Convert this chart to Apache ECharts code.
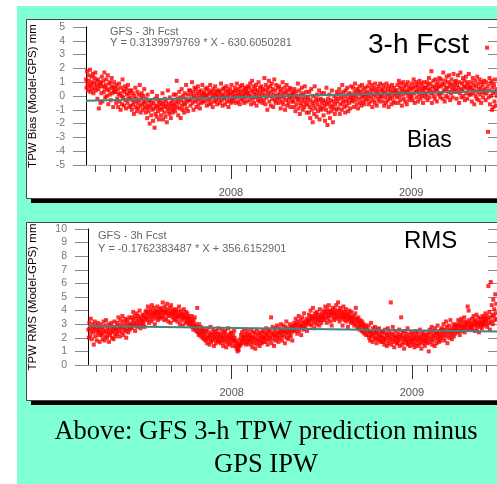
<!DOCTYPE html>
<html>
<head>
<meta charset="utf-8">
<script src="https://cdn.jsdelivr.net/npm/echarts@6/dist/echarts.min.js"></script>
<style>
  html, body { margin: 0; padding: 0; background: #fff; overflow: hidden; }
  #chart { width: 497px; height: 484px; }
</style>
</head>
<body>
<div id="chart"></div>
<script>
// Daily samples, first one on 2007-03-13 (day 71 counted from 2007-01-01)
const firstDay = 71;

// GFS 3-h forecast TPW bias (model - GPS), mm, one value per day
const biasValues = [
  1.2, 0.6, 1.8, 0.9, 0.4, 1.5, 1.1, 0.7, 1.9, 0.3, 0.8, 1.4, 0.5, 1.0, 1.6, 0.2, 0.9, 1.3, 0.6, 1.7, 0.4, 1.1, 0.8, -0.2, 1.2, 0.5, -0.9, 0.7, 1.0, -0.5,
  0.9, 0.2, 1.4, -0.4, 0.7, 1.1, 0.3, 1.7, 0.6, -0.1, 0.8, 1.2, 0.0, 0.5, 1.5, -0.6, 0.4, 0.9, 0.1, 1.0, -0.3, 0.6, 1.3, 0.2, 0.7, -0.8, 0.4, 1.0, 0.3, 0.6,
  0.3, -0.5, 0.8, -0.2, 0.5, -0.8, 0.1, 0.9, -0.4, 0.2, -1.0, 0.6, 0.0, -0.6, 1.2, -0.1, 0.4, -0.7, 0.3, 0.7, -0.3, -0.9, 0.5, 0.1, -0.5, 0.8, -0.2, 0.2, -0.8, 0.4,
  -0.1, -0.7, 0.4, -1.0, -0.3, 0.2, -0.6, -1.3, 0.0, -0.4, 0.6, -0.8, -0.2, -1.1, 0.3, -0.5, -0.9, 0.1, -0.3, 0.8, -0.7, -1.2, -0.1, 0.2, -0.6, -1.0, 0.0, -0.4, 0.5, -0.8,
  -0.5, -1.2, -0.2, -0.9, -1.6, 0.1, -0.7, -1.1, -0.4, -2.0, -0.8, -0.3, -1.4, -0.6, 0.3, -1.0, -1.8, -0.5, -0.9, -2.3, -0.2, -1.3, -0.7, -1.5, 0.0, -0.8, -1.1, -0.4, -1.7, -0.6,
  -0.9, -0.3, -1.4, -0.6, -1.0, 0.2, -1.7, -0.5, -0.8, -1.2, -0.2, -1.5, -0.7, -0.4, -1.9, -0.9, 0.4, -1.1, -0.6, -1.3, -0.1, -0.8, -1.6, -0.5, -1.0, -0.3, -1.2, -0.7, 0.1, -0.9,
  -0.6, -1.1, 0.1, -0.4, 1.1, -0.8, -0.2, -1.4, -0.5, 0.3, -0.9, -0.1, -1.6, -0.3, 0.5, -0.7, -1.0, 0.0, -0.5, -1.2, 0.2, -0.6, -0.2, 0.8, -0.9, -0.4, 0.1, -1.1, -0.3, 0.4,
  -0.3, 0.4, -0.7, 0.1, -0.2, 1.0, -0.5, 0.3, -1.0, 0.0, 0.6, -0.4, -0.1, 0.5, -0.8, 0.2, -0.3, 0.7, -0.6, 0.0, 0.3, -0.9, -0.2, 0.4, -0.5, 0.1, 0.8, -0.4, -0.1, 0.2,
  0.2, -0.4, 0.5, -0.1, 0.0, -0.7, 0.6, 0.1, -0.3, 0.4, -0.6, 0.2, 0.8, -0.2, -0.5, 0.3, 0.0, -0.8, 0.5, -0.1, 0.2, -0.4, 0.7, 0.1, -0.3, 0.4, -0.6, 0.0, 0.3, -0.2,
  -0.1, 0.4, -0.5, 0.2, 0.9, -0.3, 0.0, -0.7, 0.5, 0.1, -0.2, 0.6, -0.6, 0.3, -0.1, 0.7, -0.4, 0.0, 0.4, -0.8, 0.2, -0.3, 0.5, 0.1, -0.5, 0.8, -0.2, 0.3, -0.4, 0.0,
  0.3, -0.2, 0.6, 0.0, -0.5, 0.4, 0.9, -0.1, 0.2, -0.4, 0.5, 0.1, -0.6, 0.7, 0.3, -0.2, 0.0, 0.8, -0.3, 0.4, 0.1, -0.5, 0.6, 0.2, -0.1, 0.5, -0.4, 0.3, 0.7, 0.0,
  0.2, 0.6, -0.3, 0.9, 0.0, -0.6, 0.4, 1.1, -0.2, 0.3, 0.7, -0.5, 0.1, 0.5, -0.1, 0.8, -0.7, 0.2, 0.4, -0.3, 1.0, 0.0, -0.4, 0.6, 0.3, -0.2, 0.7, 0.1, -0.5, 0.4,
  0.5, -0.3, 1.3, 0.1, -0.6, 0.8, -0.1, 0.4, -1.0, 0.6, 0.2, 1.1, -0.4, 0.0, 0.7, -0.7, 0.3, 0.9, -0.2, 0.5, -0.8, 0.1, 1.2, -0.3, 0.4, -0.5, 0.8, 0.0, -0.2, 0.6,
  0.1, -0.5, 0.7, -0.2, 0.3, -0.9, 0.5, 0.0, -0.4, 1.0, -0.6, 0.2, -0.1, 0.6, -1.0, 0.3, -0.3, 0.8, -0.7, 0.1, 0.4, -0.5, -0.2, 0.6, 0.0, -0.8, 0.5, -0.1, 0.2, -0.4,
  -0.4, 0.2, -0.8, 0.5, -0.1, -1.1, 0.3, -0.6, 0.0, -0.3, 0.9, -0.9, -0.2, 0.4, -1.3, -0.5, 0.1, -0.7, 0.6, -0.2, -1.0, 0.2, -0.4, -0.8, 0.7, -0.1, -0.6, 0.3, -1.2, -0.3,
  -0.6, -0.1, -1.2, 0.3, -0.8, -1.6, -0.3, 0.5, -1.0, -0.5, -1.9, 0.0, -0.7, -1.3, 0.7, -0.4, -0.9, -0.2, -1.5, 0.1, -0.6, -1.1, -0.3, 0.4, -1.7, -0.8, -0.2, -1.0, 0.2, -0.5,
  -0.9, -0.3, -1.4, 0.2, -0.7, -1.8, -0.4, -1.0, 0.6, -0.6, -2.1, -0.2, -1.2, -0.5, 0.1, -1.6, -0.8, -0.3, -1.1, 0.4, -0.7, -1.9, -0.4, -0.9, 0.0, -1.3, -0.6, -0.2, -1.0, 0.3,
  -0.4, 0.1, -0.9, -0.2, 0.5, -1.3, -0.6, 0.2, -0.1, -1.0, 0.8, -0.5, -0.3, 0.3, -0.8, 0.0, -1.2, 0.4, -0.4, -0.7, 0.6, -0.2, -1.1, 0.1, -0.5, 0.2, -0.9, -0.1, 0.7, -0.3,
  0.1, -0.4, 0.6, -0.1, -0.8, 0.3, 0.9, -0.3, 0.0, -0.6, 0.5, 0.2, -0.9, 0.4, -0.2, 0.7, -0.5, 0.1, 0.3, -0.7, 0.8, -0.1, -0.4, 0.5, 0.0, -0.6, 0.2, 0.6, -0.3, 0.1,
  0.3, -0.2, 0.7, 0.0, -0.6, 1.0, 0.2, -0.4, 0.5, -0.1, 0.8, -0.8, 0.4, 0.1, -0.3, 0.6, -0.5, 0.9, 0.0, 0.3, -0.7, 0.5, 0.2, -0.2, 0.7, -0.4, 0.1, 0.9, -0.1, 0.4,
  0.0, 0.5, -0.4, 0.8, 0.2, -0.7, 0.3, -0.1, 0.6, -0.5, 0.9, 0.1, -0.3, 0.4, -0.8, 0.7, 0.0, -0.2, 0.5, 0.2, -0.6, 0.8, -0.1, 0.3, -0.4, 0.6, 0.1, -0.5, 0.4, 0.2,
  0.4, -0.1, 0.8, 0.2, -0.5, 1.1, 0.0, 0.6, -0.3, 0.9, 0.3, -0.7, 0.5, 0.1, 1.0, -0.2, 0.7, 0.4, -0.4, 0.2, 0.8, -0.6, 0.3, 1.0, 0.0, 0.5, -0.3, 0.7, 0.2, -0.1,
  0.5, 0.0, 0.9, -0.3, 0.6, 1.2, 0.2, -0.5, 0.7, 0.3, 1.0, -0.1, 0.4, 0.8, -0.4, 0.6, 0.1, 1.1, 0.3, -0.2, 0.9, 0.5, 0.0, 0.7, -0.5, 0.4, 1.0, 0.2, 0.6, -0.1,
  0.6, 0.1, 1.0, -0.3, 0.8, 0.4, 1.3, -0.1, 0.5, 0.9, 0.2, 1.8, -0.5, 0.7, 0.3, 1.1, 0.0, 0.6, -0.2, 1.2, 0.4, 0.8, -0.4, 0.5, 1.0, 0.1, 0.7, 1.3, 0.2, -0.1,
  0.7, 1.2, 0.2, 0.9, -0.2, 1.7, 0.4, 0.8, -0.4, 1.1, 0.5, 0.0, 1.4, 0.6, -0.1, 1.0, 0.3, 1.5, 0.7, -0.3, 0.9, 0.2, 1.2, 0.5, -0.1, 0.8, 1.6, 0.3, 0.6, 1.0,
  0.4, 1.1, -0.2, 0.8, 0.3, 1.5, 0.6, -0.5, 1.0, 0.2, 1.7, 0.5, -0.1, 0.9, 0.4, 1.3, 0.0, 0.7, 1.1, -0.3, 0.6, 1.4, 0.2, 0.8, -0.2, 1.0, 0.5, 1.6, 0.1, 0.7,
  0.6, 0.1, 1.0, -0.4, 0.5, 1.3, 0.2, 0.8, -0.6, 0.4, 1.1, 0.0, 0.7, -0.2, 1.4, 0.3, 0.9, -0.3, 0.5, 1.2, 0.1, 0.6, -0.5, 1.0, 0.3, 0.8, -0.1, 0.4, 1.1, 0.2,
  0.5, -0.3, 1.0, 0.2, 3.5, 0.7, -2.6, -0.1, 0.4, 1.3, -0.6, 0.9, 0.0, 1.1, -1.0, 0.6, 0.2, -0.8, 0.8, -0.4, 1.2, 0.3, -0.7, 0.5, 0.0
];

// GFS 3-h forecast TPW RMS (model - GPS), mm, one value per day
const rmsValues = [
  2.9, 2.3, 3.3, 2.6, 2.0, 3.1, 2.7, 2.2, 3.4, 2.5, 1.9, 2.8, 3.0, 2.4, 1.5, 2.7, 3.2, 2.1, 2.6, 2.9, 1.8, 2.4, 3.1, 2.6, 2.2, 2.8, 1.7, 2.5, 3.0, 2.3,
  2.2, 2.8, 1.9, 2.6, 3.2, 2.4, 1.8, 2.9, 2.1, 3.3, 2.5, 2.0, 2.7, 2.3, 3.0, 1.7, 2.6, 2.2, 2.9, 2.4, 3.1, 2.0, 2.7, 2.5, 1.9, 2.8, 3.2, 2.3, 2.6, 2.1,
  2.6, 3.1, 2.3, 2.9, 3.5, 2.5, 2.8, 2.1, 3.3, 2.7, 3.0, 2.4, 3.6, 2.8, 2.2, 3.2, 2.6, 2.9, 3.4, 2.5, 2.0, 3.1, 2.7, 3.3, 2.4, 2.9, 3.5, 2.6, 3.0, 2.8,
  3.0, 3.5, 2.7, 3.3, 3.9, 2.9, 3.1, 3.6, 2.5, 3.4, 3.0, 3.8, 2.8, 3.2, 3.6, 2.9, 3.4, 4.0, 3.1, 2.7, 3.5, 3.3, 2.9, 3.7, 3.2, 3.0, 3.6, 2.8, 3.4, 3.9,
  3.5, 4.0, 3.3, 3.8, 4.3, 3.6, 3.1, 3.9, 3.4, 4.1, 3.7, 3.2, 4.4, 3.6, 3.9, 3.4, 4.2, 3.8, 3.0, 3.7, 4.0, 3.5, 3.9, 4.3, 3.3, 3.8, 3.6, 4.1, 3.4, 3.9,
  3.7, 4.2, 3.5, 4.0, 4.6, 3.6, 3.9, 3.3, 4.3, 3.8, 4.1, 3.4, 3.9, 4.5, 3.7, 3.2, 4.0, 3.6, 4.2, 3.8, 3.1, 4.4, 3.7, 3.9, 3.5, 4.1, 3.8, 3.3, 4.0, 3.6,
  3.8, 3.4, 4.1, 3.6, 3.2, 3.9, 3.5, 4.3, 3.7, 3.0, 3.6, 4.0, 3.3, 3.8, 3.5, 2.9, 3.7, 4.1, 3.4, 3.6, 3.1, 3.9, 3.5, 3.2, 3.8, 3.4, 3.0, 3.6, 3.3, 3.1,
  3.4, 2.9, 3.2, 3.6, 2.8, 3.1, 2.6, 3.3, 2.9, 3.5, 2.7, 3.0, 2.5, 2.8, 4.2, 2.4, 2.7, 2.2, 3.0, 2.5, 2.3, 2.8, 2.1, 2.6, 2.4, 2.0, 2.7, 2.3, 1.9, 2.5,
  2.2, 1.8, 2.5, 2.0, 1.6, 2.7, 2.1, 1.9, 2.4, 1.5, 2.2, 2.8, 1.7, 2.0, 2.3, 1.8, 2.6, 2.1, 1.4, 2.4, 1.9, 2.2, 1.6, 2.5, 2.0, 1.8, 2.3, 2.7, 1.7, 2.1,
  1.9, 2.3, 1.6, 2.1, 2.6, 1.8, 2.0, 1.4, 2.4, 2.2, 1.7, 2.5, 1.9, 1.3, 2.2, 2.0, 1.6, 2.7, 1.8, 2.1, 1.5, 2.3, 1.9, 2.4, 1.7, 2.0, 1.4, 2.2, 1.8, 2.5,
  2.0, 1.7, 1.4, 1.8, 1.2, 1.5, 1.0, 1.3, 1.1, 1.6, 1.4, 1.9, 1.5, 2.2, 1.8, 2.4, 1.6, 2.1, 1.9, 2.6, 1.7, 2.0, 2.3, 1.5, 2.1, 1.8, 2.5, 1.6, 2.2, 1.9,
  1.8, 2.2, 1.5, 2.0, 2.5, 1.7, 1.3, 2.1, 1.9, 2.4, 1.6, 2.0, 1.2, 2.3, 1.8, 2.6, 1.5, 1.9, 2.2, 1.7, 2.4, 1.4, 2.0, 1.8, 2.3, 1.6, 2.1, 2.5, 1.7, 2.0,
  2.0, 2.4, 1.7, 2.2, 2.7, 1.9, 2.3, 1.5, 2.5, 2.1, 1.8, 2.6, 2.0, 2.4, 3.5, 1.6, 2.2, 2.8, 1.9, 2.3, 1.4, 2.5, 2.1, 2.7, 1.8, 2.2, 2.9, 2.0, 2.4, 1.7,
  2.3, 2.7, 2.0, 2.5, 3.0, 2.2, 1.8, 2.6, 2.4, 2.9, 2.1, 2.5, 1.6, 2.8, 2.3, 3.2, 2.0, 2.6, 2.4, 1.9, 2.7, 2.2, 3.0, 2.5, 2.1, 2.8, 2.4, 1.8, 2.6, 2.9,
  2.7, 3.1, 2.5, 2.9, 3.4, 2.6, 3.0, 2.3, 3.2, 2.8, 3.6, 2.5, 3.0, 2.7, 3.3, 2.2, 2.9, 3.5, 2.8, 3.1, 2.6, 3.8, 2.9, 3.2, 2.7, 3.0, 3.4, 2.5, 3.1, 3.3,
  3.2, 3.7, 3.0, 3.5, 4.0, 3.3, 2.9, 3.6, 3.4, 4.2, 3.1, 3.5, 2.7, 3.8, 3.3, 3.6, 3.0, 3.9, 3.4, 3.2, 3.7, 3.5, 2.9, 4.1, 3.3, 3.6, 3.1, 3.8, 3.4, 3.5,
  3.6, 4.0, 3.3, 3.8, 4.3, 3.5, 3.9, 3.1, 4.1, 3.7, 3.4, 4.4, 3.6, 3.9, 3.2, 4.0, 3.7, 2.9, 3.8, 4.2, 3.5, 3.9, 3.3, 4.1, 3.6, 3.8, 4.4, 3.4, 3.7, 4.0,
  4.6, 3.5, 3.9, 3.2, 4.2, 3.7, 3.4, 4.0, 3.6, 2.9, 3.8, 4.3, 3.5, 3.3, 3.9, 3.6, 4.1, 3.2, 3.7, 3.4, 2.8, 3.8, 3.5, 4.0, 3.3, 3.6, 3.1, 3.9, 3.4, 3.2,
  3.5, 3.1, 3.6, 2.9, 3.3, 3.8, 4.2, 3.0, 3.4, 2.7, 3.2, 3.5, 2.8, 3.1, 2.6, 3.3, 2.9, 3.0, 2.5, 3.2, 2.7, 2.4, 3.0, 2.8, 2.3, 2.6, 2.9, 2.2, 2.7, 2.5,
  2.6, 2.2, 2.9, 2.0, 2.5, 1.8, 2.4, 3.1, 2.1, 2.3, 1.7, 2.7, 2.2, 2.5, 1.9, 2.8, 2.0, 2.4, 1.6, 2.3, 2.6, 1.9, 2.1, 2.7, 1.8, 2.2, 2.5, 1.7, 2.0, 2.4,
  2.1, 1.7, 2.4, 1.9, 1.5, 2.6, 2.0, 1.8, 2.3, 1.4, 2.2, 2.7, 1.6, 2.0, 2.4, 1.8, 2.1, 4.6, 1.5, 2.3, 1.9, 2.8, 1.7, 2.2, 1.3, 2.0, 2.5, 1.8, 2.1, 1.6,
  2.0, 1.6, 2.3, 1.8, 2.6, 1.4, 2.1, 1.9, 3.5, 2.2, 1.5, 2.4, 1.7, 2.0, 1.2, 2.5, 1.9, 2.1, 1.6, 2.3, 1.8, 2.7, 1.5, 2.0, 1.7, 2.2, 1.4, 1.9, 2.4, 1.8,
  1.7, 2.1, 1.5, 2.3, 1.9, 1.3, 2.0, 2.5, 1.6, 2.2, 1.8, 1.4, 2.4, 1.9, 2.1, 1.5, 2.6, 1.7, 2.0, 1.2, 2.3, 1.8, 2.1, 1.6, 2.4, 1.9, 1.4, 2.2, 1.7, 2.0,
  1.8, 2.2, 1.6, 2.4, 1.0, 2.0, 2.6, 1.7, 2.3, 1.9, 2.8, 1.5, 2.1, 2.5, 1.8, 2.2, 1.4, 2.7, 2.0, 2.3, 1.6, 2.4, 2.9, 1.9, 2.2, 1.7, 2.5, 2.1, 1.8, 2.6,
  2.3, 2.7, 2.0, 2.5, 3.0, 2.2, 1.8, 2.6, 2.4, 3.2, 2.1, 2.8, 1.6, 2.5, 2.3, 2.9, 2.0, 2.6, 3.3, 2.2, 2.4, 1.9, 2.7, 2.5, 3.0, 2.1, 2.8, 2.3, 2.6, 2.9,
  2.6, 3.0, 2.4, 2.8, 3.3, 2.5, 2.9, 2.2, 3.1, 2.7, 3.4, 2.5, 2.9, 3.2, 2.6, 2.8, 3.5, 2.4, 3.0, 2.7, 3.2, 2.9, 3.1, 4.3, 2.6, 4.0, 3.3, 2.8, 3.0, 2.7,
  3.1, 2.8, 3.4, 2.6, 3.0, 3.6, 2.9, 3.2, 2.5, 3.3, 3.0, 3.7, 2.7, 3.1, 2.9, 3.5, 2.4, 3.2, 3.0, 2.8, 3.4, 3.1, 2.7, 3.6, 3.0, 3.3, 2.9, 3.5, 3.2, 3.8,
  3.3, 3.0, 3.6, 2.8, 3.4, 5.8, 3.1, 3.9, 2.6, 3.5, 6.1, 3.2, 4.4, 3.7, 3.0, 4.8, 3.6, 4.1, 3.3, 5.2, 3.8, 4.5, 3.4, 4.0, 4.9
];

// Linear fits printed on each panel: Y = slope * X + intercept, X in years
const biasFit = [0.3139979769, -630.6050281];
const rmsFit = [-0.1762383487, 356.6152901];

const yearLabels = [2008, 2009];
const biasTicks = [-5, -4, -3, -2, -1, 0, 1, 2, 3, 4, 5];
const rmsTicks = [0, 1, 2, 3, 4, 5, 6, 7, 8, 9, 10];

const epoch = Date.UTC(2007, 0, 1);
const dayOf = (y, m) => Math.round((Date.UTC(y, m, 1) - epoch) / 86400000);

// month starts from April 2007 to June 2009, and the year boundaries
const monthDays = [];
for (let y = 2007; y <= 2009; y++) {
  for (let m = 0; m < 12; m++) {
    const d = dayOf(y, m);
    if (d >= dayOf(2007, 3) && d <= dayOf(2009, 5)) monthDays.push(d);
  }
}
const yearDays = yearLabels.map(y => dayOf(y, 0));
const dayToYear = d => 2007 + d / 365.25;

const toPoints = vals => vals.map((v, i) => [firstDay + i, v]);
const fitLine = (fit, x0, x1) => [x0, x1].map(d => [d, fit[0] * dayToYear(d) + fit[1]]);
const fitText = fit => 'Y = ' + fit[0] + ' * X ' + (fit[1] < 0 ? '- ' : '+ ') + Math.abs(fit[1]);

const range = [
  { min: 70.8, max: 905.2 },
  { min: 73.3, max: 903.6 }
];

const sans = 'Arial, "Liberation Sans", Helvetica, sans-serif';
const serif = '"Liberation Serif", "Times New Roman", Times, serif';

function xAxes(g) {
  return [
    {
      type: 'value', gridIndex: g, position: 'bottom', min: range[g].min, max: range[g].max,
      axisLine: { show: true, onZero: false, lineStyle: { color: '#aaa', width: 1 } },
      axisTick: { show: true, customValues: monthDays, length: 7, lineStyle: { color: '#444', width: 1 } },
      axisLabel: { show: false },
      splitLine: { show: false }
    },
    {
      type: 'value', gridIndex: g, position: 'bottom', min: range[g].min, max: range[g].max,
      axisLine: { show: false, onZero: false },
      axisTick: { show: true, customValues: yearDays, length: 14, lineStyle: { color: '#333', width: 1 } },
      axisLabel: {
        show: true, customValues: yearDays, margin: 22,
        color: '#555', fontSize: 11, fontFamily: sans,
        formatter: v => String(yearLabels[yearDays.indexOf(Math.round(v))])
      },
      splitLine: { show: false }
    }
  ];
}

function yAxes(g, min, max, name, ticks) {
  return [
    {
      type: 'value', gridIndex: g, min, max, interval: 1, position: 'left',
      name, nameLocation: 'middle', nameGap: g === 0 ? 47 : 49,
      nameTextStyle: { color: '#000', fontSize: 11.5, fontFamily: sans },
      axisLine: { show: true, onZero: false, lineStyle: { color: '#000', width: 1 } },
      axisTick: { show: true, length: 13, lineStyle: { color: '#888', width: 1 } },
      axisLabel: {
        show: true, margin: 21, color: '#777', fontSize: 10.5, fontFamily: sans,
        customValues: ticks
      },
      splitLine: { show: false }
    },
    {
      type: 'value', gridIndex: g, min, max, interval: 1, position: 'right',
      axisLine: { show: false, onZero: false },
      axisTick: { show: true, inside: true, length: 9, lineStyle: { color: '#888', width: 1 } },
      axisLabel: { show: false },
      splitLine: { show: false }
    }
  ];
}

const chart = echarts.init(document.getElementById('chart'), null, { renderer: 'canvas' });

const panelBox = (top, h) => [
  { type: 'rect', z: -10, shape: { x: 31, y: top + 5, width: 480, height: h }, style: { fill: '#000' } },
  { type: 'rect', z: -9, shape: { x: 26.5, y: top + 0.5, width: 480, height: h }, style: { fill: '#fff', stroke: '#444', lineWidth: 1 } }
];

const label = (x, y, text, size, color, font, align) => ({
  type: 'text', z: 20, x, y,
  style: { text, fill: color, font: size + 'px ' + font, textAlign: align || 'left', textVerticalAlign: 'middle' }
});

chart.setOption({
  animation: false,
  backgroundColor: '#fff',
  graphic: [
    { type: 'rect', z: -20, shape: { x: 17, y: 6, width: 480, height: 478 }, style: { fill: '#7FFFD4' } },
    ...panelBox(19, 179),
    ...panelBox(222, 178),
    label(110, 32, 'GFS - 3h Fcst', 11, '#666', sans),
    label(110, 43, fitText(biasFit), 11, '#666', sans),
    label(368, 45, '3-h Fcst', 28, '#000', sans),
    label(407, 141, 'Bias', 23, '#000', sans),
    label(98, 236, 'GFS - 3h Fcst', 11, '#666', sans),
    label(98, 249, fitText(rmsFit), 11, '#666', sans),
    label(404, 241, 'RMS', 24, '#000', sans),
    label(266, 432, 'Above: GFS 3-h TPW prediction minus', 26.5, '#000', serif, 'center'),
    label(266, 465, 'GPS IPW', 26.5, '#000', serif, 'center')
  ],
  grid: [
    { left: 86, top: 27, width: 411, height: 138, show: false },
    { left: 88, top: 229, width: 409, height: 136, show: false }
  ],
  xAxis: [...xAxes(0), ...xAxes(1)],
  yAxis: [
    ...yAxes(0, -5, 5, 'TPW Bias (Model-GPS) mm', biasTicks),
    ...yAxes(1, 0, 10, 'TPW RMS (Model-GPS) mm', rmsTicks)
  ],
  series: [
    {
      type: 'scatter', xAxisIndex: 0, yAxisIndex: 0, symbol: 'rect', symbolSize: 4,
      itemStyle: { color: '#ff0000' }, data: toPoints(biasValues), z: 2
    },
    {
      type: 'line', xAxisIndex: 0, yAxisIndex: 0, showSymbol: false, symbol: 'none',
      lineStyle: { color: '#3f8585', width: 2 }, data: fitLine(biasFit, range[0].min, range[0].max), z: 3
    },
    {
      type: 'scatter', xAxisIndex: 2, yAxisIndex: 2, symbol: 'rect', symbolSize: 4,
      itemStyle: { color: '#ff0000' }, data: toPoints(rmsValues), z: 2
    },
    {
      type: 'line', xAxisIndex: 2, yAxisIndex: 2, showSymbol: false, symbol: 'none',
      lineStyle: { color: '#3f8585', width: 2 }, data: fitLine(rmsFit, range[1].min, range[1].max), z: 3
    }
  ]
});
</script>
</body>
</html>
